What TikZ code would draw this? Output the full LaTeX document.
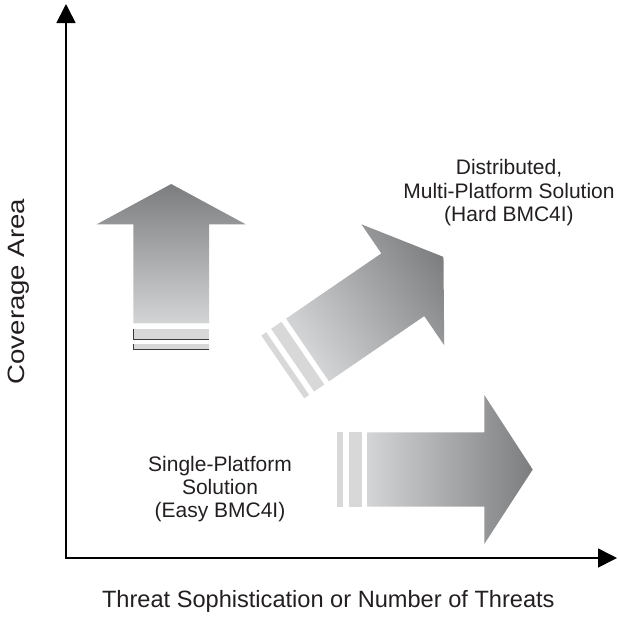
\documentclass[tikz,border=0pt]{standalone}
\usepackage{fontspec}
\setmainfont{Liberation Sans}
\usetikzlibrary{arrows.meta}
\definecolor{darkg}{HTML}{7C7D7F}
\definecolor{lightg}{HTML}{D3D4D5}
\definecolor{stripeg}{HTML}{D8D8D8}
\definecolor{edgeg}{HTML}{3A3A3A}
\definecolor{textg}{HTML}{231F20}
\begin{document}
\begin{tikzpicture}[x=1pt,y=-1pt,
  axisline/.style={line width=1.6pt,draw=black,
    {Triangle[length=19pt,width=19pt]}-{Triangle[length=19pt,width=19pt]}},
  lbl/.style={font=\fontsize{21}{23.4}\selectfont,align=center,inner sep=0pt,text=textg},
  axlbl/.style={font=\fontsize{23.6}{26}\selectfont,inner sep=0pt,text=textg},
  stripe/.style={fill=stripeg},
  stripeedge/.style={draw=edgeg,line width=0.9pt}]
\useasboundingbox (0,0) rectangle (618,616);

% axes
\coordinate (O) at (66,558);
\coordinate (Ytip) at (66,4);
\coordinate (Xtip) at (617,558);
\draw[axisline] (Ytip) -- (O) -- (Xtip);

% axis labels
\node[axlbl,anchor=base] (xlabel) at (328.3,607.3) {Threat Sophistication or Number of Threats};
\node[axlbl,anchor=base,rotate=90,xscale=1.17] (ylabel) at (24,291.5) {Coverage Area};

% up arrow
\shade[top color=darkg,bottom color=lightg]
  (171.2,184) -- (245.7,224.3) -- (209,224.3) -- (209,323.3)
  -- (133.3,323.3) -- (133.3,224.3) -- (96.7,224.3) -- cycle;
\fill[stripe] (133.3,329) rectangle (209,339.3);
\draw[stripeedge] (133.3,329) -- (133.3,339.3) -- (209,339.3);
\fill[stripe] (133.3,344) rectangle (209,349.3);
\draw[stripeedge] (133.3,344) -- (133.3,349.3) -- (209,349.3);

% right arrow
\shade[left color=lightg,right color=darkg]
  (367.3,432.3) -- (484.3,432.3) -- (484.3,395) -- (532.7,469.5)
  -- (484.3,544) -- (484.3,506.7) -- (367.3,506.7) -- cycle;
\fill[stripe] (349.3,432.3) rectangle (361.7,506.7);
\fill[stripe] (337.3,432.3) rectangle (343.3,506.7);

% diagonal arrow
\begin{scope}[transform canvas={shift={(307.5,350)},rotate=34.4}]
\shade[left color=lightg,right color=darkg]
  (0,-38) -- (115.5,-38) -- (115.5,-73.3) -- (164.8,0)
  -- (115.5,73.3) -- (115.5,38) -- (0,38) -- cycle;
\fill[stripe] (-5.6,-38) rectangle (-18,38);
\fill[stripe] (-24,-38) rectangle (-30,38);
\end{scope}

% labels
\node[lbl] (multi) at (509,192.7) {Distributed,\\Multi-Platform Solution\\(Hard BMC4I)};
\node[lbl] (single) at (220,489) {Single-Platform\\Solution\\(Easy BMC4I)};
\end{tikzpicture}
\end{document}
